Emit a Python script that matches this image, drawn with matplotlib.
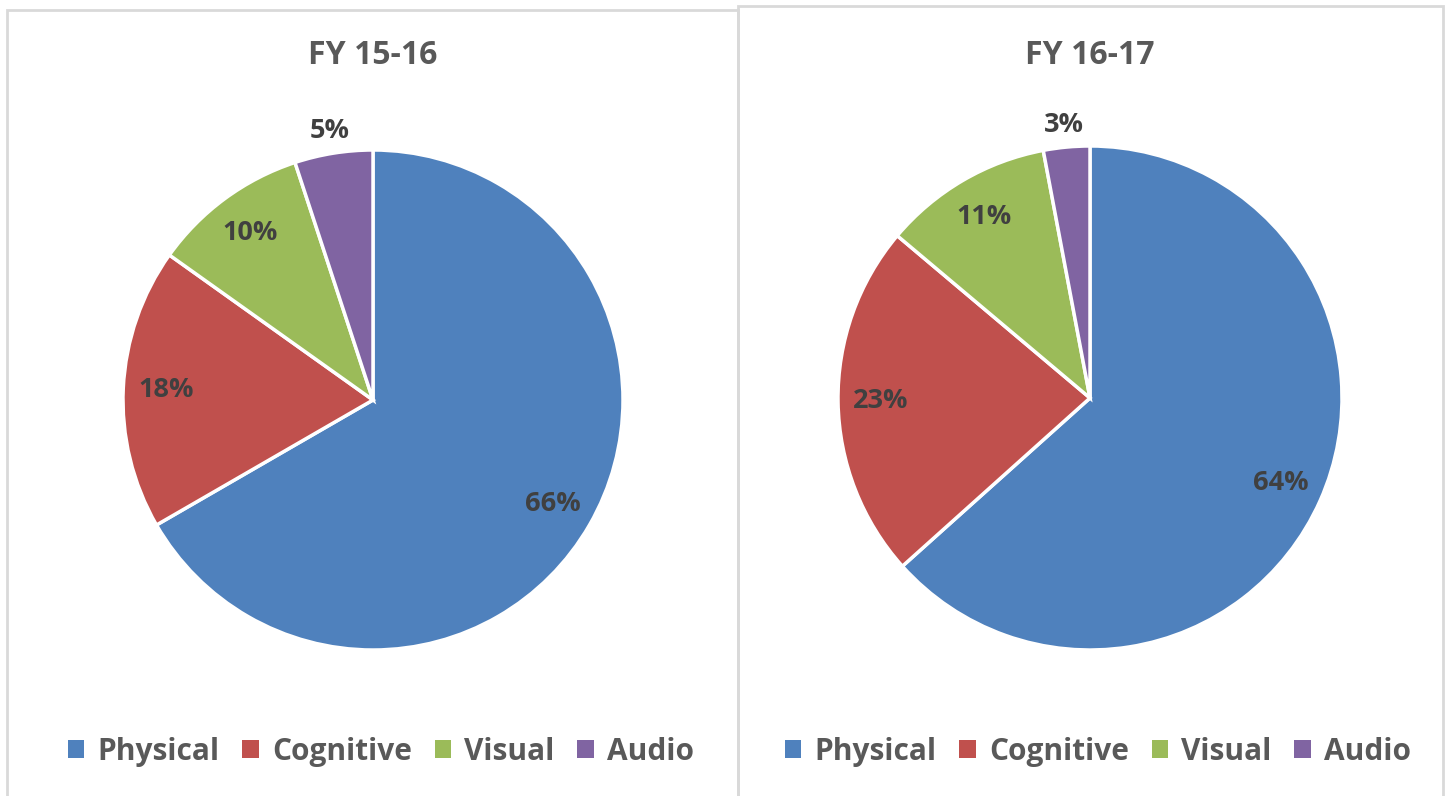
import numpy as np
import matplotlib.pyplot as plt
from matplotlib.patches import Rectangle, Patch

plt.rcParams['font.family'] = ['Open Sans', 'DejaVu Sans']

categories = ['Physical', 'Cognitive', 'Visual', 'Audio']
fy1516 = [66, 18, 10, 5]
fy1617 = [64, 23, 11, 3]
titles = ['FY 15-16', 'FY 16-17']
colors = ['#4F81BD', '#C0504D', '#9BBB59', '#8064A2']

W, H = 1447, 796
fig = plt.figure(figsize=(W / 100, H / 100), dpi=100)

# panel borders (pixel coords)
panels = [(7, 10, 738, 800), (738, 6, 1443, 800)]
for x0, y0, x1, y1 in panels:
    fig.patches.append(Rectangle((x0 / W, 1 - y1 / H), (x1 - x0) / W, (y1 - y0) / H,
                                 transform=fig.transFigure, fill=False,
                                 edgecolor='#D9D9D9', lw=2))

centers = [(373, 400, 250), (1090, 398, 252)]
legend_x = [381, 1098]

for vals, title, (cx, cy, r), lx in zip([fy1516, fy1617], titles, centers, legend_x):
    ax = fig.add_axes([(cx - r) / W, (H - cy - r) / H, 2 * r / W, 2 * r / H])
    total = sum(vals)
    wedges, _ = ax.pie(vals, colors=colors, startangle=90, counterclock=False,
                       wedgeprops=dict(edgecolor='white', linewidth=2.5))
    for w, v in zip(wedges, vals):
        ang = np.deg2rad((w.theta1 + w.theta2) / 2)
        d = 0.83 if v / total > 0.06 else 1.09
        ax.text(d * np.cos(ang), d * np.sin(ang), f'{v}%', ha='center', va='center',
                fontsize=19.5, fontweight='bold', color='#404040')
    ax.set_xlim(-1, 1)
    ax.set_ylim(-1, 1)
    ax.axis('off')
    fig.text(cx / W, 1 - 55 / H, title, ha='center', va='center', fontsize=23,
             fontweight='bold', color='#595959')
    handles = [Patch(facecolor=c, edgecolor='none') for c in colors]
    fig.legend(handles, categories, loc='center', bbox_to_anchor=(lx / W, 1 - 752 / H),
               ncol=4, frameon=False, handlelength=0.55, handleheight=0.55,
               handletextpad=0.45, columnspacing=0.75,
               prop=dict(size=21.5, weight='bold'), labelcolor='#595959')

fig.savefig('out.png', dpi=100)
